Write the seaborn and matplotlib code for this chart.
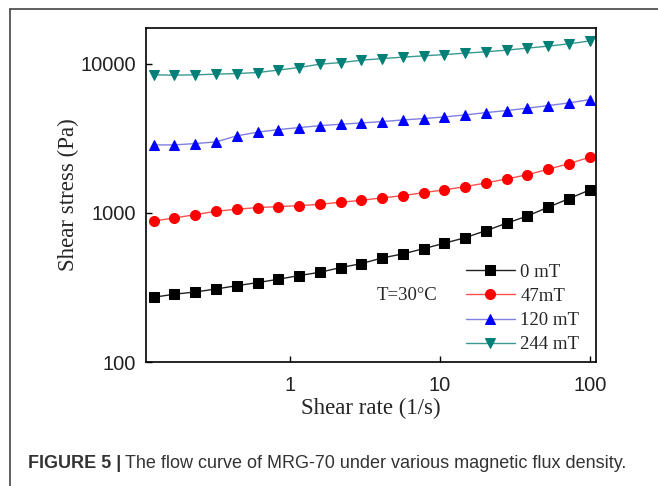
import numpy as np
import pandas as pd
import matplotlib.pyplot as plt
import seaborn as sns

# shear rate (1/s)
shear_rate = [0.124, 0.170, 0.234, 0.322, 0.443, 0.610, 0.838, 1.15, 1.59, 2.18, 3.0,
              4.12, 5.67, 7.80, 10.7, 14.8, 20.3, 27.9, 38.4, 52.8, 72.6, 100]

# shear stress (Pa) for each flux density
stress_0mT = [272, 285, 295, 309, 325, 341, 359, 380, 400, 430, 457,
              499, 531, 576, 626, 683, 761, 853, 955, 1092, 1247, 1427]
stress_47mT = [883, 925, 974, 1026, 1059, 1086, 1102, 1119, 1143, 1179, 1216,
               1261, 1306, 1369, 1427, 1502, 1589, 1690, 1806, 1963, 2142, 2364]
stress_120mT = [2860, 2860, 2920, 2995, 3290, 3480, 3625, 3735, 3850, 3935, 4015,
                4100, 4205, 4295, 4405, 4545, 4710, 4860, 5045, 5250, 5470, 5755]
stress_244mT = [8440, 8400, 8440, 8530, 8610, 8750, 9080, 9450, 9950, 10200, 10580,
                10850, 11090, 11320, 11540, 11800, 12050, 12360, 12750, 13150, 13620, 14250]

labels = ["0 mT", "47mT", "120 mT", "244 mT"]
marker_colors = ["black", "#ff0000", "#0000ff", "#008076"]
line_colors = ["#222222", "#ff5050", "#8080e0", "#3a9a92"]
markers = ["s", "o", "^", "v"]

df = pd.DataFrame({
    "rate": shear_rate * 4,
    "stress": stress_0mT + stress_47mT + stress_120mT + stress_244mT,
    "field": sum([[l] * len(shear_rate) for l in labels], []),
})

sns.set_style("ticks")
plt.rcParams["font.family"] = ["Liberation Sans", "DejaVu Sans"]
plt.rcParams["xtick.direction"] = "in"
plt.rcParams["ytick.direction"] = "in"

fig = plt.figure(figsize=(6.58, 4.86), dpi=100)
ax = fig.add_axes([0.2219, 0.2551, 0.6839, 0.6873])

for lab, mc, lc, m in zip(labels, marker_colors, line_colors, markers):
    sub = df[df["field"] == lab]
    sns.lineplot(data=sub, x="rate", y="stress", ax=ax, color=lc, lw=1.0,
                 marker=m, markersize=7.2, markerfacecolor=mc, markeredgecolor=mc,
                 label=lab)

ax.set_xscale("log")
ax.set_yscale("log")
ax.set_xlim(0.11, 110)
ax.set_ylim(100, 17400)
ax.set_xticks([1, 10, 100])
ax.set_xticklabels(["1", "10", "100"])
ax.set_yticks([100, 1000, 10000])
ax.set_yticklabels(["100", "1000", "10000"])
ax.minorticks_off()
ax.tick_params(labelsize=14.5, length=4, width=1, color="black", labelcolor="#222222")
ax.tick_params(axis="x", pad=10)
ax.tick_params(axis="y", pad=7)
for s in ax.spines.values():
    s.set_linewidth(1.2)
    s.set_color("black")

serif = ["Liberation Serif", "DejaVu Serif"]
ax.set_xlabel("Shear rate (1/s)", fontsize=16.5, family=serif, labelpad=2)
ax.set_ylabel("Shear stress (Pa)", fontsize=16.5, family=serif, labelpad=1)
ax.text(0.58, 0.2, "T=30°C", transform=ax.transAxes, fontsize=13.5, family=serif,
        ha="center", va="center")

leg = ax.legend(loc="lower right", frameon=False, prop={"family": serif, "size": 13.5},
                handlelength=2.6, handletextpad=0.3, labelspacing=0.38,
                bbox_to_anchor=(1.0, -0.025))

# figure frame and caption
fig.add_artist(plt.Line2D([10 / 658, 10 / 658], [0, 1 - 9 / 486], color="#444444", lw=1.2))
fig.add_artist(plt.Line2D([10 / 658, 1], [1 - 9 / 486, 1 - 9 / 486], color="#444444", lw=1.2))
t1 = fig.text(28 / 658, 1 - 463 / 486, "FIGURE 5 |", fontsize=12.95, weight="bold",
              color="#333333", va="center")
fig.canvas.draw()
bb = t1.get_window_extent()
fig.text(bb.x1 / 658 + 0.006, 1 - 463 / 486,
         "The flow curve of MRG-70 under various magnetic flux density.",
         fontsize=12.95, color="#333333", va="center")

fig.savefig("out.png", dpi=100)
